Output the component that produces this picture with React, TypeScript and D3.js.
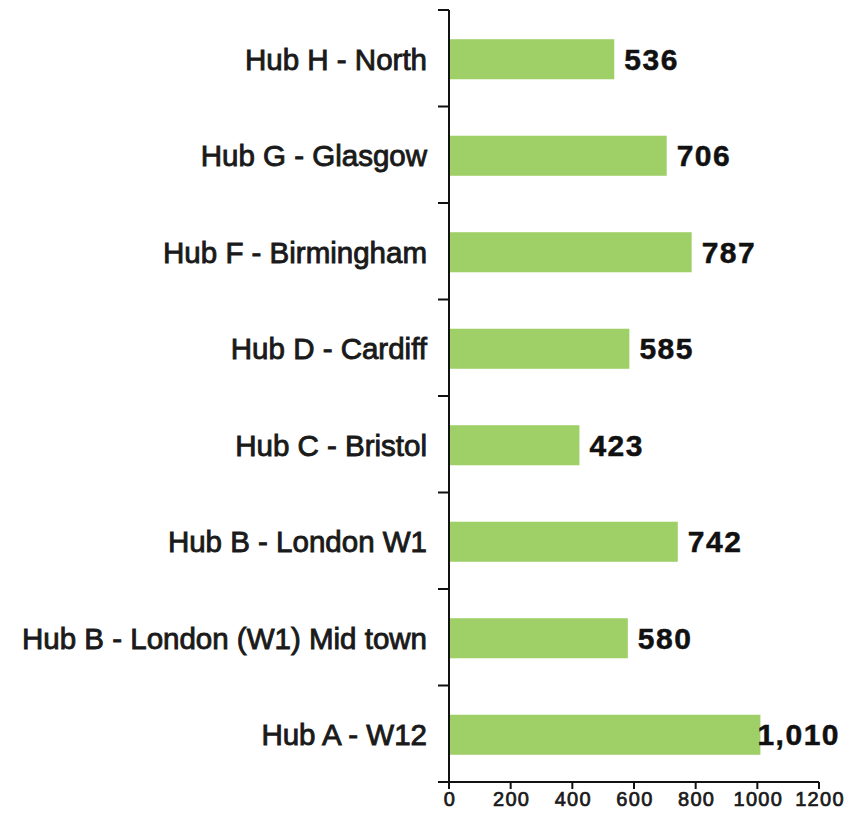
import * as d3 from 'd3';
import React, { useEffect, useRef } from 'react';

const categories = [
  'Hub H - North',
  'Hub G - Glasgow',
  'Hub F - Birmingham',
  'Hub D - Cardiff',
  'Hub C - Bristol',
  'Hub B - London W1',
  'Hub B - London (W1) Mid town',
  'Hub A - W12',
];
const values = [536, 706, 787, 585, 423, 742, 580, 1010];
const xTickValues = [0, 200, 400, 600, 800, 1000, 1200];

const W = 856;
const H = 829;

const App = () => {
  const chartRef = useRef<SVGSVGElement>(null);

  useEffect(() => {
    drawChart();
  }, []);

  const drawChart = () => {
    const svg = d3.select(chartRef.current);
    svg.selectAll('*').remove();

    const left = 449;
    const right = 819;
    const top = 10;
    const bottom = 782;

    const x = d3.scaleLinear().domain([0, 1200]).range([left, right]);
    const y = d3.scaleBand<string>()
      .domain(categories)
      .range([top, bottom])
      .paddingInner(0.585)
      .paddingOuter(0.2925);

    const step = y.step();
    const data = categories.map((c, i) => ({ name: c, value: values[i] }));

    // bars
    svg.append('g')
      .selectAll('rect')
      .data(data)
      .enter().append('rect')
      .attr('x', x(0))
      .attr('y', d => (y(d.name) as number) + 1)
      .attr('width', d => x(d.value) - x(0))
      .attr('height', y.bandwidth())
      .attr('fill', '#9fcf67');

    // category axis
    const yAxis = svg.append('g');
    yAxis.append('line')
      .attr('x1', left).attr('x2', left)
      .attr('y1', top).attr('y2', bottom)
      .attr('stroke', '#111').attr('stroke-width', 2);
    const boundaries = d3.range(categories.length + 1).map(i => top + i * step);
    yAxis.selectAll('.ytick')
      .data(boundaries)
      .enter().append('line')
      .attr('x1', left - 11).attr('x2', left)
      .attr('y1', d => d).attr('y2', d => d)
      .attr('stroke', '#111').attr('stroke-width', 2);
    yAxis.selectAll('.ylabel')
      .data(categories)
      .enter().append('text')
      .attr('x', left - 22)
      .attr('y', d => (y(d) as number) + y.bandwidth() / 2 + 1)
      .attr('dy', '0.35em')
      .attr('text-anchor', 'end')
      .style('font-family', '"Liberation Sans", Arial, sans-serif')
      .style('font-size', '29.5px')
      .attr('fill', '#1a1a1a')
      .attr('stroke', '#1a1a1a')
      .attr('stroke-width', 0.9)
      .text(d => d);

    // value axis
    const xAxis = svg.append('g');
    xAxis.append('line')
      .attr('x1', left).attr('x2', right)
      .attr('y1', bottom).attr('y2', bottom)
      .attr('stroke', '#111').attr('stroke-width', 2);
    xAxis.selectAll('.xtick')
      .data(xTickValues)
      .enter().append('line')
      .attr('x1', d => x(d)).attr('x2', d => x(d))
      .attr('y1', bottom).attr('y2', bottom + 7)
      .attr('stroke', '#111').attr('stroke-width', 2);
    xAxis.selectAll('.xlabel')
      .data(xTickValues)
      .enter().append('text')
      .attr('x', d => x(d) + 1)
      .attr('y', 806)
      .attr('text-anchor', 'middle')
      .style('font-family', '"Liberation Sans", Arial, sans-serif')
      .style('font-size', '20px')
      .style('letter-spacing', '1.3px')
      .attr('fill', '#1a1a1a')
      .attr('stroke', '#1a1a1a')
      .attr('stroke-width', 0.7)
      .text(d => String(d));

    // value labels
    const fmt = d3.format(',');
    const labels = svg.append('g')
      .selectAll('text')
      .data(data)
      .enter().append('text')
      .attr('x', d => x(d.value) + 10)
      .attr('y', d => (y(d.name) as number) + y.bandwidth() / 2 + 1)
      .attr('dy', '0.35em')
      .style('font-family', '"Liberation Sans", Arial, sans-serif')
      .style('font-size', '30px')
      .style('font-weight', 'bold')
      .style('letter-spacing', '1.5px')
      .attr('fill', '#111')
      .attr('stroke', '#111')
      .attr('stroke-width', 0.5)
      .text(d => fmt(d.value));

    // keep labels inside the picture
    labels.each(function () {
      const t = this as SVGTextElement;
      const len = t.getComputedTextLength();
      const lx = +t.getAttribute('x')!;
      if (lx + len > W - 16) t.setAttribute('x', String(W - 16 - len));
    });
  };

  return (
    <svg ref={chartRef} width={W} height={H}
      style={{ position: 'absolute', left: 0, top: 0, background: '#fff' }} />
  );
};

export default App;
